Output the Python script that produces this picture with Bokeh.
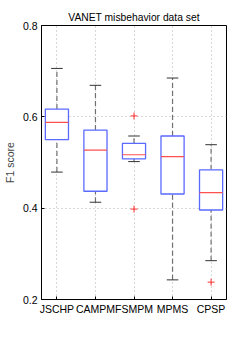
from bokeh.plotting import figure
from bokeh.models import FixedTicker, Range1d, ColumnDataSource
from bokeh.embed import file_html
from bokeh.resources import INLINE

categories = ["JSCHP", "CAMPM", "FSMPM", "MPMS", "CPSP"]
whisker_low = [0.479, 0.413, 0.502, 0.243, 0.285]
q1 = [0.550, 0.437, 0.508, 0.431, 0.396]
median = [0.588, 0.527, 0.517, 0.513, 0.434]
q3 = [0.617, 0.571, 0.542, 0.558, 0.484]
whisker_high = [0.706, 0.669, 0.558, 0.685, 0.539]
outlier_cat = ["FSMPM", "FSMPM", "CPSP"]
outlier_val = [0.602, 0.398, 0.238]
y_ticks = [0.2, 0.4, 0.6, 0.8]

FONT = "Liberation Sans"
xs = [i + 1 for i in range(len(categories))]
pos = {c: i + 1 for i, c in enumerate(categories)}
bw = 0.3
cw = 0.15

src = ColumnDataSource(dict(
    x=xs, left=[x - bw for x in xs], right=[x + bw for x in xs],
    cl=[x - cw for x in xs], cr=[x + cw for x in xs],
    lo=whisker_low, q1=q1, med=median, q3=q3, hi=whisker_high,
))

p = figure(width=233, height=321, output_backend="svg", toolbar_location=None,
           x_range=Range1d(0.6, 5.4), y_range=Range1d(0.2, 0.8),
           min_border_left=35, min_border_right=7, min_border_top=25,
           min_border_bottom=22)

p.title.text = "VANET misbehavior data set"
p.title.align = "center"
p.title.text_font = FONT
p.title.text_font_size = "10.3px"
p.title.text_font_style = "normal"
p.title.text_color = "black"
p.title.standoff = 6

p.segment(x0="x", y0="q3", x1="x", y1="hi", source=src, line_color="#707070",
          line_width=1.2, line_dash="5 3")
p.segment(x0="x", y0="lo", x1="x", y1="q1", source=src, line_color="#707070",
          line_width=1.2, line_dash="5 3")
p.segment(x0="cl", y0="hi", x1="cr", y1="hi", source=src, line_color="#333333", line_width=1)
p.segment(x0="cl", y0="lo", x1="cr", y1="lo", source=src, line_color="#333333", line_width=1)
p.quad(left="left", right="right", bottom="q1", top="q3", source=src,
       fill_color="white", fill_alpha=1, line_color="#5a6aff", line_width=1.3)
p.segment(x0="left", y0="med", x1="right", y1="med", source=src,
          line_color="#ff5050", line_width=1.2)
p.scatter([pos[c] for c in outlier_cat], outlier_val, marker="cross", size=7,
          line_color="#ff3030", line_width=1)

p.xaxis.ticker = FixedTicker(ticks=xs)
p.xaxis.major_label_overrides = {x: c for x, c in zip(xs, categories)}
p.yaxis.ticker = FixedTicker(ticks=y_ticks)
p.yaxis.major_label_overrides = {0.2: "0.2", 0.4: "0.4", 0.6: "0.6", 0.8: "0.8"}
p.yaxis.axis_label = "F1 score"

for ax in (p.xaxis, p.yaxis):
    ax.major_label_text_font = FONT
    ax.major_label_text_font_size = "10.5px"
    ax.major_label_text_color = "black"
    ax.axis_label_text_font = FONT
    ax.axis_label_text_font_size = "10.5px"
    ax.axis_label_text_font_style = "normal"
    ax.axis_line_color = "black"
    ax.major_tick_in = 3
    ax.major_tick_out = 0
    ax.minor_tick_line_color = None
    ax.major_tick_line_color = "black"
p.xaxis.major_label_standoff = 3
p.yaxis.major_label_standoff = 4
p.yaxis.axis_label_standoff = 4

p.xgrid.grid_line_color = "#b0b0b0"
p.xgrid.grid_line_dash = "1 3"
p.ygrid.grid_line_color = "#b0b0b0"
p.ygrid.grid_line_dash = "1 3"
p.outline_line_color = "black"
p.outline_line_width = 1
p.outline_line_alpha = 1

open("out.html", "w").write(file_html(p, INLINE))
